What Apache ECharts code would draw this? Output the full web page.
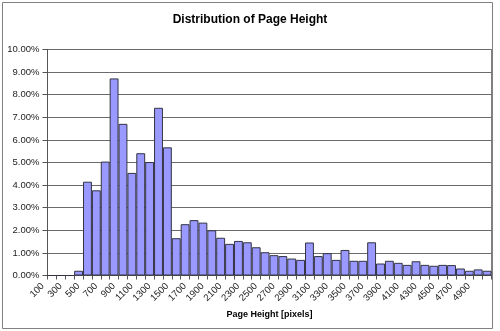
<!DOCTYPE html>
<html>
<head>
<meta charset="utf-8">
<script src="https://cdn.jsdelivr.net/npm/echarts@6/dist/echarts.min.js"></script>
<style>
html,body{margin:0;padding:0;background:#fff;}
#chart{width:500px;height:331px;}
</style>
</head>
<body>
<div id="chart"></div>
<script>
var titleText = 'Distribution of Page Height';
var xAxisName = 'Page Height [pixels]';
var categories = ['100','200','300','400','500','600','700','800','900','1000',
  '1100','1200','1300','1400','1500','1600','1700','1800','1900','2000',
  '2100','2200','2300','2400','2500','2600','2700','2800','2900','3000',
  '3100','3200','3300','3400','3500','3600','3700','3800','3900','4000',
  '4100','4200','4300','4400','4500','4600','4700','4800','4900','5000'];
// share of pages in each bin, percent
var shares = [0, 0, 0, 0.21, 4.15, 3.77, 5.04, 8.72, 6.71, 4.54,
  5.41, 5.02, 7.42, 5.67, 1.65, 2.27, 2.45, 2.34, 2.00, 1.67,
  1.40, 1.53, 1.47, 1.25, 1.03, 0.90, 0.86, 0.75, 0.69, 1.46,
  0.86, 0.99, 0.69, 1.13, 0.65, 0.65, 1.47, 0.53, 0.65, 0.56,
  0.47, 0.63, 0.47, 0.43, 0.47, 0.46, 0.31, 0.21, 0.27, 0.21];
var yMin = 0, yMax = 10, yStep = 1;

var FONT = "Arial, 'Liberation Sans', sans-serif";
var chart = echarts.init(document.getElementById('chart'), null, {renderer: 'canvas'});
chart.setOption({
  animation: false,
  backgroundColor: '#ffffff',
  textStyle: {fontFamily: FONT},
  title: {
    text: titleText,
    left: 'center',
    top: 14,
    padding: 0,
    textStyle: {fontFamily: FONT, fontSize: 12, fontWeight: 'bold', color: '#000'}
  },
  graphic: [{
    type: 'rect',
    shape: {x: 2.5, y: 2.5, width: 490, height: 326},
    style: {fill: 'none', stroke: '#808080', lineWidth: 1},
    silent: true, z: 100
  }],
  grid: {
    left: 47.5, right: 8.5, top: 49.5, bottom: 55.5,
    show: true, borderColor: '#808080', borderWidth: 1,
    containLabel: false
  },
  xAxis: {
    type: 'category',
    data: categories,
    boundaryGap: true,
    name: xAxisName,
    nameLocation: 'middle',
    nameGap: 33,
    nameTextStyle: {fontFamily: FONT, fontSize: 9, fontWeight: 'bold', color: '#000'},
    axisLine: {show: true, lineStyle: {color: '#555', width: 1}},
    axisTick: {show: true, interval: 0, length: 4, lineStyle: {color: '#555'}},
    axisLabel: {
      interval: 1, rotate: 45, margin: 0,
      padding: [0, 13, 0, 0],
      fontFamily: FONT, fontSize: 9.5, color: '#222'
    },
    splitLine: {show: false}
  },
  yAxis: {
    type: 'value',
    min: yMin, max: yMax, interval: yStep,
    axisLine: {show: true, lineStyle: {color: '#555', width: 1}},
    axisTick: {show: true, length: 5, lineStyle: {color: '#555'}},
    axisLabel: {
      margin: 8, fontFamily: FONT, fontSize: 9.5, color: '#222',
      formatter: function (v) { return v.toFixed(2) + '%'; }
    },
    splitLine: {show: true, lineStyle: {color: '#6a6a6a', width: 1}}
  },
  series: [{
    type: 'bar',
    data: shares,
    barCategoryGap: '0%',
    itemStyle: {color: '#9999FF', borderColor: '#333344', borderWidth: 1}
  }]
});
</script>
</body>
</html>
